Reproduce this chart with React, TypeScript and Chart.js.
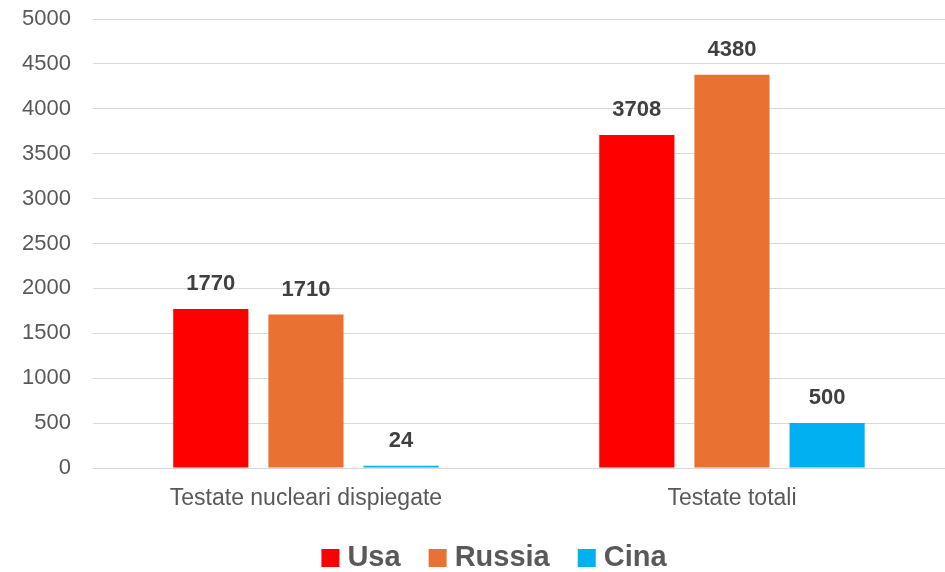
import React, { useEffect, useRef } from "react";
import { Chart, registerables } from "chart.js";

Chart.register(...registerables);

const categories = ["Testate nucleari dispiegate", "Testate totali"];
const usaValues = [1770, 3708];
const russiaValues = [1710, 4380];
const cinaValues = [24, 500];
const seriesNames = ["Usa", "Russia", "Cina"];
const seriesColors = ["#FF0000", "#E97132", "#00B0F0"];

const FONT = "'Liberation Sans', Arial, sans-serif";

const dataLabelPlugin = {
  id: "dataLabels",
  afterDatasetsDraw(chart: any) {
    const ctx = chart.ctx;
    ctx.save();
    ctx.font = `bold 22px ${FONT}`;
    ctx.fillStyle = "#404040";
    ctx.textAlign = "center";
    ctx.textBaseline = "middle";
    chart.data.datasets.forEach((ds: any, i: number) => {
      const meta = chart.getDatasetMeta(i);
      meta.data.forEach((bar: any, j: number) => {
        ctx.fillText(String(ds.data[j]), bar.x, bar.y - 25);
      });
    });
    ctx.restore();
  },
};

const legendPlugin = {
  id: "customLegend",
  afterDraw(chart: any) {
    const ctx = chart.ctx;
    const box = 18;
    const gapText = 8;
    const gapItem = 28;
    ctx.save();
    ctx.font = `bold 29px ${FONT}`;
    const items = chart.data.datasets.map((ds: any) => ({
      text: ds.label,
      color: ds.backgroundColor,
      w: ctx.measureText(ds.label).width,
    }));
    const total =
      items.reduce((s: number, it: any) => s + box + gapText + it.w, 0) +
      gapItem * (items.length - 1);
    let x = 494 - total / 2;
    const baseline = chart.height - 6;
    items.forEach((it: any) => {
      ctx.fillStyle = it.color;
      ctx.fillRect(x, baseline - 17, box, box);
      x += box + gapText;
      ctx.fillStyle = "#595959";
      ctx.textAlign = "left";
      ctx.textBaseline = "alphabetic";
      ctx.fillText(it.text, x, baseline);
      x += it.w + gapItem;
    });
    ctx.restore();
  },
};

export default function App() {
  const ref = useRef<HTMLCanvasElement>(null);
  useEffect(() => {
    document.body.style.margin = "0";
    const chart = new Chart(ref.current!, {
      type: "bar",
      data: {
        labels: categories,
        datasets: [usaValues, russiaValues, cinaValues].map((d, i) => ({
          label: seriesNames[i],
          data: d,
          backgroundColor: seriesColors[i],
          borderWidth: 0,
          categoryPercentage: 0.67,
          barPercentage: 0.79,
        })),
      },
      options: {
        animation: false,
        responsive: false,
        maintainAspectRatio: false,
        layout: { padding: { top: 19, right: 0, left: 0, bottom: 30 } },
        plugins: {
          tooltip: { enabled: false },
          legend: { display: false },
        },
        scales: {
          x: {
            grid: { display: false, drawTicks: false },
            border: { display: false },
            ticks: {
              color: "#595959",
              font: { family: FONT, size: 23 },
              padding: 17,
            },
            afterFit: (scale: any) => {
              scale.height = 74;
            },
          },
          y: {
            min: 0,
            max: 5000,
            grid: { color: "#D9D9D9", lineWidth: 1, drawTicks: false },
            border: { display: false },
            ticks: {
              stepSize: 500,
              color: "#595959",
              font: { family: FONT, size: 22 },
              padding: 22,
              callback: (v: any) => String(v),
            },
            afterFit: (scale: any) => {
              scale.paddingTop = 0;
              scale.paddingBottom = 0;
            },
          },
        },
      },
      plugins: [dataLabelPlugin, legendPlugin],
    });
    return () => chart.destroy();
  }, []);
  return (
    <div style={{ width: 945, height: 572 }}>
      <canvas ref={ref} width={945} height={572} />
    </div>
  );
}
